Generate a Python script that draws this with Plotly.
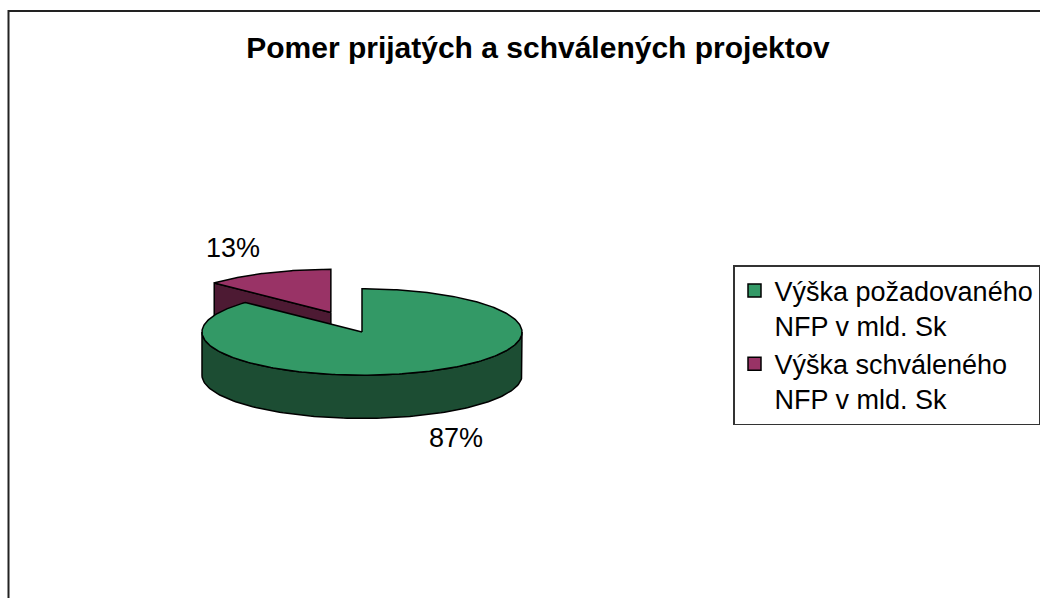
import numpy as np
import plotly.graph_objects as go

# ---- data ----
categories = ["Výška požadovaného<br>NFP v mld. Sk", "Výška schváleného<br>NFP v mld. Sk"]
values = [87, 13]
top_colors = ["#339966", "#993366"]
side_colors = ["#1c4d33", "#4d1a33"]
title_text = "Pomer prijatých a schválených projektov"

# ---- geometry (pie drawn in unit-radius coordinates) ----
W, H = 1040, 598
R_PX = 160.0          # pixels per unit
CX_PX, CY_PX = 362.0, 332.0
tilt = 0.27           # ellipse ratio ry/rx
depth = 0.27          # thickness of the pie
pull = 0.49           # explosion of the small slice

total = float(sum(values))
fracs = [v / total for v in values]
start = 90.0  # degrees, slices go clockwise

def arc(a0, a1, n=120, dx=0.0, dy=0.0, dz=0.0):
    t = np.radians(np.linspace(a0, a1, n))
    return list(np.cos(t) + dx), list(tilt * np.sin(t) + dy - dz)

# slice angle spans
spans = []
a = start
for f in fracs:
    spans.append((a, a - 360 * f))
    a -= 360 * f

fig = go.Figure()
line = dict(color="black", width=1.5)

# small slice (exploded), drawn first because it is behind
a0, a1 = spans[1]
mid = np.radians((a0 + a1) / 2)
ox, oy = pull * np.cos(mid), pull * tilt * np.sin(mid)
# radial side face on the leading (a0) edge, facing the viewer
ex, ey = np.cos(np.radians(a0)) + ox, tilt * np.sin(np.radians(a0)) + oy
fig.add_trace(go.Scatter(
    x=[ox, ex, ex, ox, ox], y=[oy, ey, ey - depth, oy - depth, oy],
    mode="lines", fill="toself", fillcolor=side_colors[1], line=line,
    hoverinfo="skip", showlegend=False))
xs, ys = arc(a0, a1, dx=ox, dy=oy)
fig.add_trace(go.Scatter(
    x=[ox] + xs + [ox], y=[oy] + ys + [oy],
    mode="lines", fill="toself", fillcolor=top_colors[1], line=line,
    hoverinfo="skip", showlegend=False))

# big slice: front rim
xt, yt = arc(180, 360)
xb, yb = arc(360, 180, dz=depth)
fig.add_trace(go.Scatter(
    x=xt + xb + [xt[0]], y=yt + yb + [yt[0]],
    mode="lines", fill="toself", fillcolor=side_colors[0], line=line,
    hoverinfo="skip", showlegend=False))
# big slice: top face
a0, a1 = spans[0]
xs, ys = arc(a0, a1, n=300)
fig.add_trace(go.Scatter(
    x=[0] + xs + [0], y=[0] + ys + [0],
    mode="lines", fill="toself", fillcolor=top_colors[0], line=line,
    hoverinfo="skip", showlegend=False))

# legend entries
for name, col in zip(categories, top_colors):
    fig.add_trace(go.Scatter(
        x=[None], y=[None], mode="markers", name=name,
        marker=dict(symbol="square", size=13, color=col,
                    line=dict(color="black", width=1.5))))

# percentage labels
pct = [f"{round(f * 100)}%" for f in fracs]
label_pos = [(0.5875, -0.6625), (-0.806, 0.525)]
for txt, (lx, ly) in zip(pct, label_pos):
    fig.add_annotation(x=lx, y=ly, text=txt, showarrow=False,
                       font=dict(family="Liberation Sans", size=27, color="black"),
                       xanchor="center", yanchor="middle")

# axes mapped so that 1 unit = R_PX pixels
xr = [(0 - CX_PX) / R_PX, (W - CX_PX) / R_PX]
yr = [-(H - CY_PX) / R_PX, CY_PX / R_PX]

fig.update_layout(
    width=W, height=H,
    margin=dict(l=0, r=0, t=0, b=0, autoexpand=False),
    paper_bgcolor="white", plot_bgcolor="white",
    xaxis=dict(range=xr, visible=False, fixedrange=True),
    yaxis=dict(range=yr, visible=False, fixedrange=True),
    title=dict(text=f"<b>{title_text}</b>", x=538 / W, y=1 - 47 / H,
               xanchor="center", yanchor="middle",
               font=dict(family="Liberation Sans", size=30, color="black")),
    legend=dict(x=733 / W, y=1 - 265 / H, xanchor="left", yanchor="top",
                bgcolor="white", bordercolor="#333333", borderwidth=1.5,
                font=dict(family="Liberation Sans", size=27, color="black"),
                valign="top", tracegroupgap=0),
    shapes=[dict(type="rect", xref="paper", yref="paper",
                 x0=8.5 / W, y0=-0.05, x1=1.05, y1=1 - 11 / H,
                 line=dict(color="#222222", width=2))],
)

fig.write_html("out.html",
               config={"displayModeBar": False},
               post_script="document.body.style.margin='0';"
                           "document.body.style.overflow='hidden';")
